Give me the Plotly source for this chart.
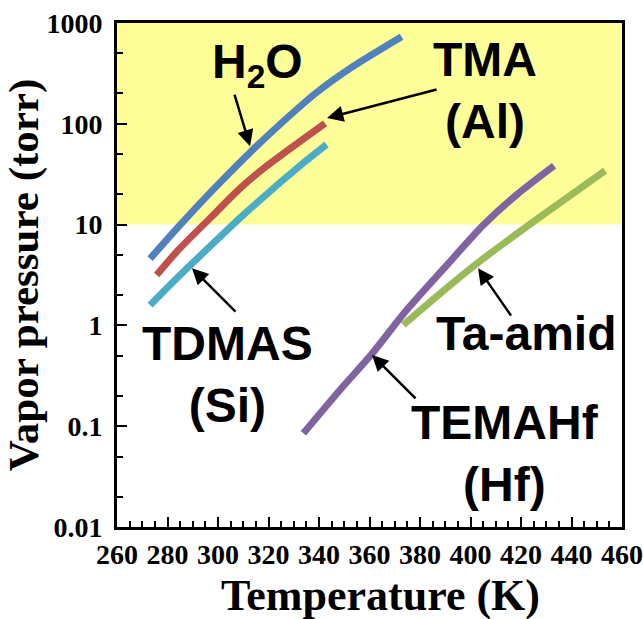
import plotly.graph_objects as go
import math

# ---- data ----
T_h2o = [273.1, 284.3, 297.5, 312.7, 325.9, 339.1, 352.3, 372.7]
P_h2o = [4.6, 9.5, 21.5, 52, 106, 205, 355, 731]

T_tma = [275.7, 284.3, 297.5, 308.0, 318.0, 342.4]
P_tma = [3.16, 5.6, 12.0, 22, 36, 101]

T_tdmas = [273.1, 284.3, 297.5, 310.7, 332.5, 343.0]
P_tdmas = [1.59, 3.04, 6.3, 12.9, 38.5, 62.5]

T_temahf = [333.8, 348.3, 360.9, 374.7, 391.9, 405.1, 418.3, 433.1]
P_temahf = [0.085, 0.229, 0.52, 1.42, 4.3, 9.9, 19.8, 38.4]

T_taamid = [373.4, 391.9, 405.1, 418.3, 431.5, 453.3]
P_taamid = [1.01, 2.5, 4.6, 8.1, 14.0, 34.3]

y_tickvals = [0.01, 0.1, 1, 10, 100, 1000]
y_ticktext = ["0.01", "0.1", "1", "10", "100", "1000"]
x_tickvals = [260, 280, 300, 320, 340, 360, 380, 400, 420, 440, 460]

series = [
    (T_h2o, P_h2o, "#4F81BD"),
    (T_tma, P_tma, "#C0504D"),
    (T_tdmas, P_tdmas, "#4BACC6"),
    (T_temahf, P_temahf, "#8064A2"),
    (T_taamid, P_taamid, "#9BBB59"),
]

fig = go.Figure()
for T, P, c in series:
    fig.add_trace(go.Scatter(x=T, y=P, mode="lines",
                             line=dict(color=c, width=7, shape="spline", smoothing=0.8),
                             showlegend=False, hoverinfo="skip"))

# yellow region 10..1000 torr
fig.add_shape(type="rect", xref="paper", yref="y", x0=0, x1=1, y0=10, y1=1000,
              fillcolor="#FFFF99", line=dict(width=0), layer="below")

lab_font = dict(family="Liberation Sans, Arial", size=48, color="black")

# labels: (text, T, log10 P)
labels = [
    ("<b>H<sub>2</sub>O</b>", 315.8, 2.58),
    ("<b>TMA<br>(Al)</b>", 405.7, 2.33),
    ("<b>TDMAS<br>(Si)</b>", 303.6, -0.49),
    ("<b>Ta-amid</b>", 422.0, -0.08),
    ("<b>TEMAHf<br>(Hf)</b>", 413.7, -1.27),
]
for txt, T, lp in labels:
    fig.add_annotation(x=T, y=lp, xref="x", yref="y", text=txt,
                       showarrow=False, font=lab_font, xanchor="center", yanchor="middle")

# arrows: tip (T, P) and tail offset in pixels
arrows = [
    (312.7, 60.0, -16, -53),
    (343.2, 114.0, 111, -29),
    (289.7, 3.7, 45, 45),
    (403.0, 3.7, 34, 49),
    (361.0, 0.51, 45, 45),
]
for T, P, ax, ay in arrows:
    fig.add_annotation(x=T, y=math.log10(P), xref="x", yref="y", text="",
                       showarrow=True, ax=ax, ay=ay, axref="pixel", ayref="pixel",
                       arrowhead=2, arrowsize=1.3, arrowwidth=2.5, arrowcolor="black",
                       standoff=0, startstandoff=0)

tick_font = dict(family="Liberation Serif, Times New Roman", size=28, color="black", weight="bold")
title_font = dict(family="Liberation Serif, Times New Roman", size=44, color="black", weight="bold")

# x-axis title (slightly right of plot centre, as in the reference)
fig.add_annotation(text="Temperature (K)", xref="paper", yref="paper", x=0.521, y=-0.135,
                   xanchor="center", yanchor="middle", showarrow=False, font=title_font)

fig.update_xaxes(range=[260, 460], tickvals=x_tickvals, ticks="inside", ticklen=10, tickwidth=2,
                 tickcolor="black", showline=True, linewidth=3, linecolor="black", mirror=True,
                 showgrid=False, zeroline=False, tickfont=tick_font, automargin=False,
                 minor=dict(dtick=5, ticks="inside", ticklen=6, tickwidth=1.5, tickcolor="black", showgrid=False))
fig.update_yaxes(type="log", range=[-2, 3], tickvals=y_tickvals, ticktext=y_ticktext,
                 ticks="inside", ticklen=10, tickwidth=2, tickcolor="black",
                 showline=True, linewidth=3, linecolor="black", mirror=True,
                 showgrid=False, zeroline=False, tickfont=tick_font, automargin=False,
                 ticklabelstandoff=6,
                 minor=dict(ticks="inside", ticklen=6, tickwidth=1.5, tickcolor="black", showgrid=False),
                 title=dict(text="Vapor pressure (torr)", font=dict(title_font, size=43), standoff=6))

fig.update_layout(width=643, height=619, margin=dict(l=117, r=21, t=23, b=92),
                  plot_bgcolor="white", paper_bgcolor="white")

fig.write_html("out.html", config={"displayModeBar": False},
               post_script="document.body.style.margin='0';document.body.style.padding='0';")
